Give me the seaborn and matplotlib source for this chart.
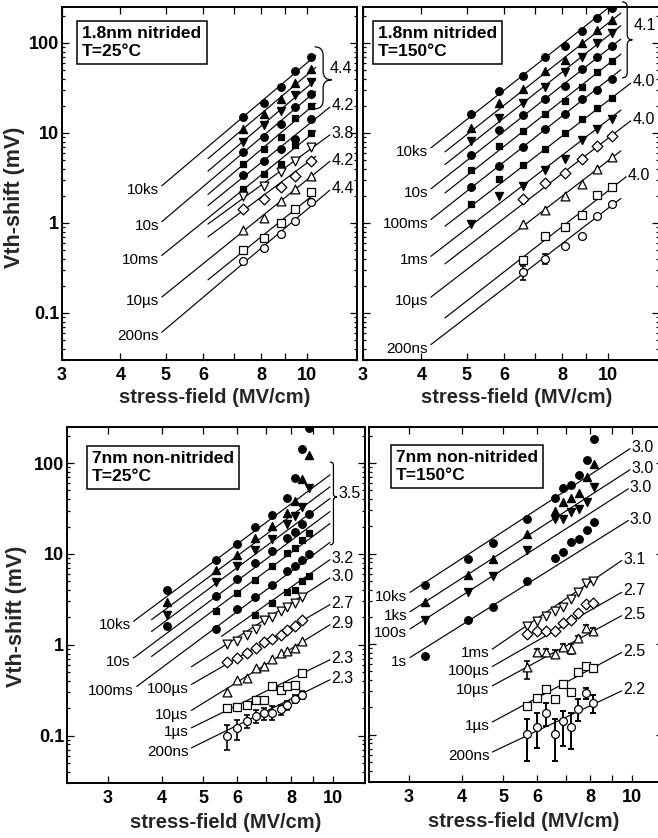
import numpy as np
import matplotlib
matplotlib.use("Agg")
import matplotlib.pyplot as plt
import seaborn as sns
from matplotlib.path import Path
from matplotlib.patches import PathPatch
from matplotlib.ticker import FixedLocator, FixedFormatter, LogLocator, NullFormatter, NullLocator

# ---------------------------------------------------------------- data
# ---- top-left: 1.8nm nitrided, T=25C
TL_SERIES = ['10ks', '1ks', '100s', '10s', '1s', '100ms', '10ms', '1ms', '100µs', '10µs', '1µs', '200ns']
TL_E = [7.3, 8.1, 8.8, 9.45, 10.2]
TL_V = {
    '200ns': [0.375, 0.52, 0.755, 1.04, 1.70],
    '1µs': [0.50, 0.68, 0.99, 1.41, 2.19],
    '10µs': [0.84, 1.14, 1.74, 2.39, 3.30],
    '100µs': [1.43, 1.86, 2.49, 3.36, 4.84],
    '1ms': [1.98, 2.60, 3.69, 4.93, 6.93],
    '10ms': [2.39, 3.50, 4.52, 7.30, 10.0],
    '100ms': [3.44, 4.84, 6.70, 8.58, 14.4],
    '1s': [4.56, 6.64, 9.1, 14.7, 20.1],
    '10s': [6.1, 9.0, 12.6, 19.6, 27.3],
    '100s': [7.94, 12.1, 17.4, 26.2, 36.6],
    '1ks': [11.1, 16.0, 23.8, 35.9, 51.5],
    '10ks': [15.1, 21.5, 32.5, 49.0, 70.0],
}
TL_FIT_E = {
    '200ns': (4.9, 11.2), '1µs': (6.15, 10.45), '10µs': (4.9, 11.2), '100µs': (6.15, 10.45),
    '1ms': (6.15, 11.2), '10ms': (4.9, 10.45), '100ms': (6.15, 11.2), '1s': (6.15, 10.45),
    '10s': (4.9, 10.45), '100s': (6.15, 10.45), '1ks': (6.15, 10.45), '10ks': (4.9, 10.45),
}
TL_FIT_V = {
    '200ns': (0.061, 2.31), '1µs': (0.233, 2.16), '10µs': (0.150, 4.82), '100µs': (0.70, 5.48),
    '1ms': (0.971, 9.48), '10ms': (0.435, 10.5), '100ms': (1.557, 19.3), '1s': (2.07, 21.3),
    '10s': (1.03, 29.0), '100s': (3.76, 38.8), '1ks': (5.17, 53.3), '10ks': (2.58, 72.5),
}
TL_LEFT = ['10ks', '10s', '10ms', '10µs', '200ns']
TL_RIGHT = {'100ms': '4.2', '1ms': '3.8', '10µs': '4.2', '200ns': '4.4'}
TL_BRACE = '4.4'

# ---- top-right: 1.8nm nitrided, T=150C
TR_SERIES = ['10ks', '1ks', '100s', '10s', '1s', '100ms', '10ms', '1ms', '100µs', '10µs', '1µs', '200ns']
TR_E_HI = [5.1, 5.85, 6.6, 7.35, 8.1, 8.8, 9.5, 10.2]
TR_E_LO = [6.6, 7.35, 8.1, 8.8, 9.5, 10.2]
TR_V = {
    '10ks': [16.0, 29.0, 42.6, 69.9, 91.8, 134.8, 189.6, 245],
    '1ks': [11.4, 21.2, 30.8, 48.4, 65.1, 98.3, 140.6, 179],
    '100s': [8.08, 14.7, 21.5, 32.4, 47.1, 69.9, 100, 129],
    '10s': [5.74, 10.7, 15.6, 23.5, 33.0, 51.4, 69.9, 91.8],
    '1s': [3.85, 7.23, 10.4, 16.0, 22.4, 32.4, 47.2, 62.6],
    '100ms': [2.51, 4.26, 6.93, 10.9, 16.0, 23.5, 29.8, 39.8],
    '10ms': [1.63, 3.11, 4.37, 6.64, 10.0, 14.1, 18.9, 24.5],
    '1ms': [0.983, 1.98, 2.55, 3.91, 5.14, 8.42, 10.9, 14.3],
    '100µs': [1.85, 2.74, 3.59, 5.14, 7.11, 9.34],
    '10µs': [0.975, 1.38, 1.98, 2.67, 3.98, 5.41],
    '1µs': [0.392, 0.711, 0.895, 1.21, 2.03, 2.51],
    '200ns': [0.283, 0.398, 0.55, 0.711, 1.19, 1.64],
}
TR_FIT_E = {
    '10ks': (4.19, 10.67), '1ks': (4.49, 10.67), '100s': (4.49, 10.67), '10s': (4.19, 10.67),
    '1s': (4.49, 10.67), '100ms': (4.19, 10.67), '10ms': (4.49, 11.2), '1ms': (4.19, 10.67),
    '100µs': (4.49, 11.2), '10µs': (4.19, 10.67), '1µs': (4.49, 10.95), '200ns': (4.19, 10.67),
}
TR_FIT_V = {
    '10ks': (6.81, 315), '1ks': (6.15, 214), '100s': (4.45, 155), '10s': (2.39, 110),
    '1s': (2.15, 74.8), '100ms': (1.09, 50.3), '10ms': (0.919, 35.6), '1ms': (0.426, 17.9),
    '100µs': (0.351, 13.6), '10µs': (0.150, 6.3), '1µs': (0.088, 3.25), '200ns': (0.0445, 1.87),
}
TR_LEFT = ['10ks', '10s', '100ms', '1ms', '10µs', '200ns']
TR_RIGHT = {'10ms': '4.0', '100µs': '4.0', '1µs': '4.0'}
TR_BRACE = '4.1'
TR_ERR_E = [6.6, 7.35]
TR_ERR_LO = [0.235, 0.353]
TR_ERR_HI = [0.336, 0.456]

# ---- bottom-left: 7nm non-nitrided, T=25C
BL_SERIES = ['10ks', '1ks', '100s', '10s', '1s', '100ms', '10ms', '1ms', '100µs', '10µs', '1µs', '200ns']
BL_E_A = [4.11, 5.35, 5.98, 6.6, 7.21, 7.81, 8.17, 8.46, 8.82]
BL_E_B = [5.35, 5.98, 6.6, 7.21, 7.81, 8.17, 8.46, 8.82]
BL_E_C = [6.6, 7.21, 7.81, 8.17, 8.46, 8.82]
BL_E_OPEN = [5.69, 6.0, 6.33, 6.63, 6.93, 7.24, 7.56, 7.84, 8.17, 8.46]
BL_V = {
    '10ks': [3.97, 8.66, 13.0, 19.9, 26.5, 40.8, 68.9, 141.5, 245],
    '1ks': [2.93, 6.72, 9.84, 15.0, 20.5, 28.3, 38.7, 66.1, 122.5],
    '100s': [2.14, 4.87, 7.31, 11.0, 14.6, 21.1, 26.0, 33.0, 52.6],
    '10s': [1.59, 3.41, 5.30, 7.96, 10.7, 15.0, 17.5, 21.6, 27.2],
    '1s': [2.33, 3.71, 5.21, 7.31, 10.3, 11.6, 14.2, 16.8],
    '100ms': [1.49, 2.47, 3.36, 4.59, 6.44, 7.31, 8.66, 10.0],
    '10ms': [2.14, 2.88, 3.78, 4.04, 5.0, 5.77],
    '1ms': [1.03, 1.11, 1.29, 1.49, 1.86, 2.02, 2.33, 2.60, 2.88, 3.33],
    '100µs': [0.638, 0.707, 0.809, 0.919, 1.07, 1.17, 1.29, 1.46, 1.59, 1.89],
    '10µs': [0.301, 0.404, 0.429, 0.553, 0.577, 0.695, 0.809, 0.844, 0.919, 1.10],
    '1µs': [0.199, 0.207, 0.218, 0.247, 0.247, 0.347, 0.321, 0.347, 0.362, 0.491],
    '200ns': [0.099, 0.122, 0.143, 0.166, 0.176, 0.176, 0.195, 0.218, 0.254, 0.283],
}
BL_FIT_E = {
    '10ks': (3.44, 9.85), '1ks': (3.79, 9.85), '100s': (3.79, 9.85), '10s': (3.44, 9.85),
    '1s': (3.79, 9.85), '100ms': (3.50, 9.85), '10ms': (5.51, 9.85), '1ms': (4.69, 9.85),
    '100µs': (4.69, 9.85), '10µs': (4.69, 9.85), '1µs': (4.69, 9.85), '200ns': (4.69, 9.85),
}
BL_FIT_V = {
    '10ks': (1.81, 74.3), '1ks': (1.89, 54.8), '100s': (1.40, 40.8), '10s': (0.713, 29.3),
    '1s': (0.743, 21.6), '100ms': (0.347, 13.4), '10ms': (1.236, 8.66), '1ms': (0.572, 5.44),
    '100µs': (0.365, 2.76), '10µs': (0.189, 1.66), '1µs': (0.1215, 0.683), '200ns': (0.0731, 0.411),
}
BL_LEFT = ['10ks', '10s', '100ms', '100µs', '10µs', '1µs', '200ns']
BL_RIGHT = {'10ms': '3.2', '1ms': '3.0', '100µs': '2.7', '10µs': '2.9', '1µs': '2.3', '200ns': '2.3'}
BL_BRACE = '3.5'
BL_ERR_LO = [0.0693, 0.0898, 0.121, 0.137, 0.149, 0.149, 0.169, 0.192, 0.228, 0.252]
BL_ERR_HI = [0.131, 0.149, 0.169, 0.192, 0.200, 0.209, 0.218, 0.237, 0.281, 0.306]

# ---- bottom-right: 7nm non-nitrided, T=150C
BR_SERIES = ['10ks', '1ks', '100s', '1s', '1ms', '100µs', '10µs', '1µs', '200ns']
BR_E_SOLID = [3.27, 4.13, 4.73, 5.67, 6.61, 6.91, 7.19, 7.54, 7.84, 8.17]
BR_E_OPEN = [5.67, 5.98, 6.29, 6.61, 6.91, 7.19, 7.49, 7.81, 8.12]
BR_V = {
    '10ks': [4.50, 8.73, 13.1, 23.8, 41.0, 52.9, 57.6, 74.3, 107, 186],
    '1ks': [2.94, 5.81, 8.73, 16.5, 29.2, 37.0, 41.0, 46.9, 70.0, 98.3],
    '100s': [1.84, 3.80, 5.71, 11.0, 24.2, 24.2, 28.7, 31.2, 37.0, 54.2],
    '1s': [0.743, 1.84, 2.55, 4.94, 8.88, 10.5, 13.3, 14.5, 18.0, 22.2],
    '1ms': [1.60, 1.81, 2.06, 2.34, 2.55, 3.15, 3.73, 4.69, 4.94],
    '100µs': [1.29, 1.38, 1.41, 1.38, 1.71, 1.84, 2.19, 2.77, 2.84],
    '10µs': [0.552, 0.809, 0.822, 0.775, 0.934, 0.880, 1.156, 1.49, 1.40],
    '1µs': [0.208, 0.257, 0.318, 0.250, 0.361, 0.297, 0.486, 0.566, 0.538],
    '200ns': [0.101, 0.123, 0.172, 0.101, 0.142, 0.123, 0.194, 0.287, 0.226],
}
BR_FIT_E = {
    '10ks': (3.02, 9.91), '1ks': (3.02, 9.91), '100s': (3.02, 9.82), '1s': (3.02, 9.82),
    '1ms': (4.71, 9.47), '100µs': (4.71, 9.47), '10µs': (4.71, 9.47), '1µs': (4.71, 9.47),
    '200ns': (4.71, 9.47),
}
BR_FIT_V = {
    '10ks': (3.73, 144), '1ks': (2.28, 84.4), '100s': (1.47, 52.0), '1s': (0.712, 23.2),
    '1ms': (0.880, 8.37), '100µs': (0.566, 3.73), '10µs': (0.346, 2.06), '1µs': (0.138, 0.809),
    '200ns': (0.0643, 0.304),
}
BR_LEFT = ['10ks', '1ks', '100s', '1s', '1ms', '100µs', '10µs', '1µs', '200ns']
BR_RIGHT = {'10ks': '3.0', '1ks': '3.0', '100s': '3.0', '1s': '3.0', '1ms': '3.1',
            '100µs': '2.7', '10µs': '2.5', '1µs': '2.5', '200ns': '2.2'}
BR_ERR10_LO = [0.409, 0.730, 0.730, 0.694, 0.844, 0.775, 1.089, 1.37, 1.31]
BR_ERR10_HI = [0.654, 0.880, 0.880, 0.858, 1.0, 1.0, 1.236, 1.623, 1.49]
BR_ERR200_LO = [0.0512, 0.0718, 0.125, 0.0512, 0.075, 0.069, 0.142, 0.246, 0.175]
BR_ERR200_HI = [0.150, 0.175, 0.226, 0.150, 0.183, 0.175, 0.246, 0.331, 0.272]

BOX_TEXT = ['1.8nm nitrided\nT=25°C', '1.8nm nitrided\nT=150°C',
            '7nm non-nitrided\nT=25°C', '7nm non-nitrided\nT=150°C']
X_TICKS = [3, 4, 5, 6, 7, 8, 9, 10]
X_TICK_LABELS = ['3', '4', '5', '6', '', '8', '', '10']
Y_TICKS = [0.1, 1, 10, 100]
Y_TICK_LABELS = ['0.1', '1', '10', '100']

# ---------------------------------------------------------------- styles
STYLE_A = {'10ks': ('o', True), '1ks': ('^', True), '100s': ('v', True), '10s': ('o', True),
           '1s': ('s', True), '100ms': ('o', True), '10ms': ('s', True), '1ms': ('v', False),
           '100µs': ('D', False), '10µs': ('^', False), '1µs': ('s', False), '200ns': ('o', False)}
STYLE_TR = dict(STYLE_A)
STYLE_TR['1ms'] = ('v', True)
STYLE_BR = dict(STYLE_A)
STYLE_BR['1s'] = ('o', True)

SIZE_FILLED = {'o': 30, '^': 34, 'v': 34, 's': 22, 'D': 24}
SIZE_OPEN = {'o': 32, '^': 40, 'v': 40, 's': 30, 'D': 30}

# ---------------------------------------------------------------- theme
sns.set_theme(style='ticks')
plt.rcParams['font.family'] = ['Liberation Sans', 'DejaVu Sans']
plt.rcParams['font.weight'] = 'bold'
plt.rcParams['axes.labelweight'] = 'bold'
plt.rcParams['axes.edgecolor'] = 'black'
plt.rcParams['xtick.color'] = 'black'
plt.rcParams['ytick.color'] = 'black'
plt.rcParams['text.color'] = 'black'

W, H = 658, 838
fig = plt.figure(figsize=(W / 100, H / 100), dpi=100)


def px_rect(l, r, t, b):
    return [l / W, 1 - b / H, (r - l) / W, (b - t) / H]


def brace(ax, x_back, x_tip, v_bot, v_top, v_tip):
    T = ax.transData
    X0, Y0 = T.transform((x_back, v_bot))
    X1, Yt = T.transform((x_tip, v_tip))
    _, Y1 = T.transform((x_back, v_top))
    xm = (X0 + X1) / 2
    r = (X1 - X0) / 2
    verts = [(X0, Y1), (xm, Y1), (xm, Y1 - r), (xm, Yt + r), (xm, Yt), (X1, Yt),
             (xm, Yt), (xm, Yt - r), (xm, Y0 + r), (xm, Y0), (X0, Y0)]
    codes = [Path.MOVETO, Path.CURVE3, Path.CURVE3, Path.LINETO, Path.CURVE3, Path.CURVE3,
             Path.CURVE3, Path.CURVE3, Path.LINETO, Path.CURVE3, Path.CURVE3]
    va = ax.transAxes.inverted().transform(verts)
    ax.add_patch(PathPatch(Path(va, codes), transform=ax.transAxes, fill=False,
                           lw=0.9, edgecolor='black', clip_on=False))


def setup_axes(ax, xlim, ylabels):
    ax.set_xscale('log')
    ax.set_yscale('log')
    ax.set_xlim(*xlim)
    ax.set_ylim(0.03, 250)
    ax.xaxis.set_major_locator(FixedLocator(X_TICKS))
    ax.xaxis.set_major_formatter(FixedFormatter(X_TICK_LABELS))
    ax.xaxis.set_minor_locator(NullLocator())
    ax.yaxis.set_major_locator(FixedLocator(Y_TICKS))
    ax.yaxis.set_major_formatter(FixedFormatter(Y_TICK_LABELS))
    ax.yaxis.set_minor_locator(LogLocator(base=10, subs=np.arange(2, 10) * 1.0, numticks=30))
    ax.yaxis.set_minor_formatter(NullFormatter())
    ax.tick_params(which='both', direction='in', top=True, right=True, width=0.9)
    ax.tick_params(which='major', length=5, labelsize=13)
    ax.tick_params(which='minor', length=2.5)
    ax.tick_params(axis='x', pad=5)
    ax.tick_params(axis='y', pad=2)
    if not ylabels:
        ax.tick_params(labelleft=False)
    for s in ax.spines.values():
        s.set_linewidth(1.4)
        s.set_color('black')
        s.set_visible(True)


def draw_series(ax, order, style, E_of, V, fit_e, fit_v, left, right):
    for name in order:
        m, filled = style[name]
        fc = 'black' if filled else 'white'
        size = SIZE_FILLED[m] if filled else SIZE_OPEN[m]
        sns.lineplot(x=list(fit_e[name]), y=list(fit_v[name]), ax=ax, color='black',
                     lw=0.85, estimator=None, sort=False, legend=False, zorder=2)
        sns.scatterplot(x=E_of[name], y=V[name], ax=ax, marker=m, s=size,
                        facecolor=fc, edgecolor='black', linewidth=0.9, zorder=4, legend=False)
        if name in left:
            ax.annotate(name, xy=(fit_e[name][0], fit_v[name][0]), xytext=(-2, -3),
                        textcoords='offset points', ha='right', va='center',
                        fontsize=11, fontweight='normal', annotation_clip=False)
        if name in right:
            ax.annotate(right[name], xy=(fit_e[name][1], fit_v[name][1]), xytext=(1, 1),
                        textcoords='offset points', ha='left', va='center',
                        fontsize=11.5, fontweight='normal', annotation_clip=False)


def box(ax, x, y, txt):
    ax.text(x, y, txt, transform=ax.transAxes, ha='left', va='top', fontsize=12.5,
            fontweight='bold', linespacing=1.25, zorder=6,
            bbox=dict(boxstyle='square,pad=0.3', fc='white', ec='black', lw=1.1))


# ---------------------------------------------------------------- top-left
ax = fig.add_axes(px_rect(62, 357, 7, 360))
setup_axes(ax, (3, 12.8), True)
E_of = {n: TL_E for n in TL_SERIES}
draw_series(ax, TL_SERIES, STYLE_A, E_of, TL_V, TL_FIT_E, TL_FIT_V, TL_LEFT, TL_RIGHT)
brace(ax, 10.39, 11.3, 18.5, 90.3, 38.8)
ax.text(11.2, 51.4, TL_BRACE, ha='left', va='center', fontsize=11.5, fontweight='normal')
box(ax, 0.0685, 0.946, BOX_TEXT[0])
ax.set_xlabel('stress-field (MV/cm)', fontsize=14.5)
ax.xaxis.set_label_coords(0.518, -0.079)
ax.set_ylabel('Vth-shift (mV)', fontsize=15.5)
ax.yaxis.set_label_coords(-0.125, 0.462)

# ---------------------------------------------------------------- top-right
ax = fig.add_axes(px_rect(363, 659, 7, 360))
setup_axes(ax, (3, 12.87), False)
E_of = {n: (TR_E_HI if i < 8 else TR_E_LO) for i, n in enumerate(TR_SERIES)}
ax.errorbar(TR_ERR_E, TR_V['200ns'][:2],
            yerr=[np.array(TR_V['200ns'][:2]) - np.array(TR_ERR_LO),
                  np.array(TR_ERR_HI) - np.array(TR_V['200ns'][:2])],
            fmt='none', ecolor='black', elinewidth=1.2, capsize=2.5, capthick=1.2, zorder=3)
draw_series(ax, TR_SERIES, STYLE_TR, E_of, TR_V, TR_FIT_E, TR_FIT_V, TR_LEFT, TR_RIGHT)
brace(ax, 10.73, 11.29, 40.8, 285, 108)
ax.text(11.36, 154.5, TR_BRACE, ha='left', va='center', fontsize=11.5, fontweight='normal')
box(ax, 0.0507, 0.946, BOX_TEXT[1])
ax.set_xlabel('stress-field (MV/cm)', fontsize=14.5)
ax.xaxis.set_label_coords(0.52, -0.079)

# ---------------------------------------------------------------- bottom-left
ax = fig.add_axes(px_rect(67, 365, 427, 783))
setup_axes(ax, (2.41, 11.88), True)
E_of = {}
for n in BL_SERIES:
    if n in ('10ks', '1ks', '100s', '10s'):
        E_of[n] = BL_E_A
    elif n in ('1s', '100ms'):
        E_of[n] = BL_E_B
    elif n == '10ms':
        E_of[n] = BL_E_C
    else:
        E_of[n] = BL_E_OPEN
v200 = np.array(BL_V['200ns'])
ax.errorbar(BL_E_OPEN, v200, yerr=[v200 - np.array(BL_ERR_LO), np.array(BL_ERR_HI) - v200],
            fmt='none', ecolor='black', elinewidth=1.2, capsize=2.5, capthick=1.2, zorder=3)
draw_series(ax, BL_SERIES, STYLE_A, E_of, BL_V, BL_FIT_E, BL_FIT_V, BL_LEFT, BL_RIGHT)
brace(ax, 9.85, 10.22, 12.6, 102.6, 42.3)
ax.text(10.28, 46.8, BL_BRACE, ha='left', va='center', fontsize=11.5, fontweight='normal')
box(ax, 0.0846, 0.932, BOX_TEXT[2])
ax.set_xlabel('stress-field (MV/cm)', fontsize=14.5)
ax.xaxis.set_label_coords(0.533, -0.084)
ax.set_ylabel('Vth-shift (mV)', fontsize=15.5)
ax.yaxis.set_label_coords(-0.134, 0.469)

# ---------------------------------------------------------------- bottom-right
ax = fig.add_axes(px_rect(369, 663, 427, 782))
setup_axes(ax, (2.42, 11.84), False)
E_of = {n: (BR_E_SOLID if i < 4 else BR_E_OPEN) for i, n in enumerate(BR_SERIES)}
v10 = np.array(BR_V['10µs'])
ax.errorbar(BR_E_OPEN, v10, yerr=[v10 - np.array(BR_ERR10_LO), np.array(BR_ERR10_HI) - v10],
            fmt='none', ecolor='black', elinewidth=1.2, capsize=2.5, capthick=1.2, zorder=3)
v2 = np.array(BR_V['200ns'])
ax.errorbar(BR_E_OPEN, v2, yerr=[v2 - np.array(BR_ERR200_LO), np.array(BR_ERR200_HI) - v2],
            fmt='none', ecolor='black', elinewidth=1.4, capsize=2.5, capthick=1.4, zorder=3)
draw_series(ax, BR_SERIES, STYLE_BR, E_of, BR_V, BR_FIT_E, BR_FIT_V, BR_LEFT, BR_RIGHT)
box(ax, 0.0925, 0.935, BOX_TEXT[3])
ax.set_xlabel('stress-field (MV/cm)', fontsize=14.5)
ax.xaxis.set_label_coords(0.527, -0.085)

fig.savefig('out.png', dpi=100, facecolor='white')
